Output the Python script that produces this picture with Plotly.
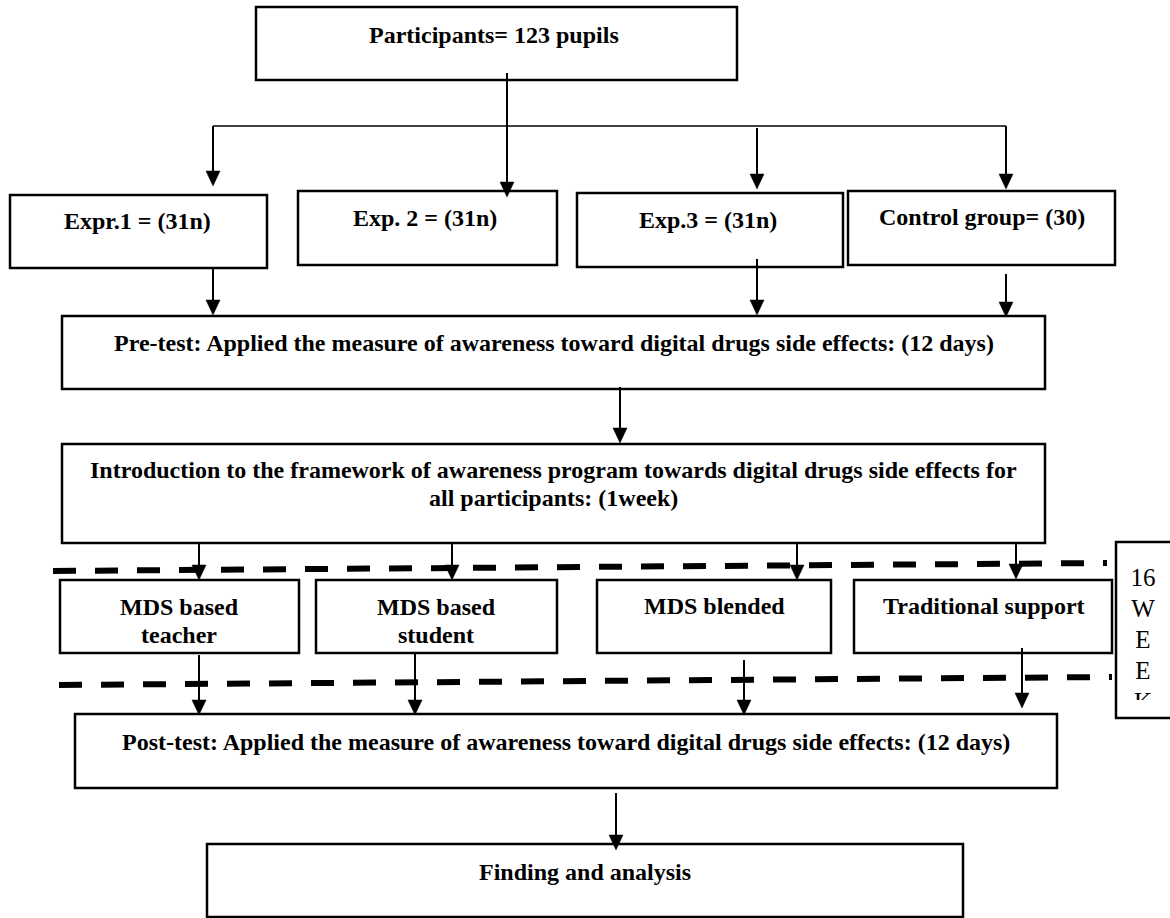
import plotly.graph_objects as go

# ---------------- content ----------------
top_label = "Participants= 123 pupils"
group_labels = ["Expr.1 = (31n)", "Exp. 2 = (31n)", "Exp.3 = (31n)", "Control group= (30)"]
pretest_label = "Pre-test: Applied the measure of awareness toward digital drugs side effects: (12 days)"
intro_label = ("Introduction to the framework of awareness program towards digital drugs side effects for"
               "<br>all participants: (1week)")
method_labels = ["MDS based<br>teacher", "MDS based<br>student", "MDS blended", "Traditional support"]
posttest_label = "Post-test: Applied the measure of awareness toward digital drugs side effects: (12 days)"
final_label = "Finding and analysis"
duration_letters = ["16", "W", "E", "E", "K"]

# ---------------- geometry (pixels, y downward) ----------------
W, H = 1170, 918
FONT = "Liberation Serif"
FS = 24
LINE_GAP = 27.5

# boxes: (x0, y0, x1, y1, text_x, first_line_y)
top_box = (256, 7, 737, 80, 494, 35)
group_boxes = [(10, 195, 267, 268, 137, 221),
               (298, 191, 557, 265, 425, 218),
               (577, 193, 843, 267, 708, 220),
               (848, 191, 1115, 265, 982, 217)]
pretest_box = (62, 316, 1045, 389, 554, 343)
intro_box = (62, 444, 1045, 543, 553, 470)
method_boxes = [(60, 580, 299, 653, 179, 607),
                (316, 580, 557, 653, 436, 607),
                (597, 580, 831, 653, 714, 606),
                (854, 580, 1112, 653, 984, 606)]
posttest_box = (75, 714, 1057, 788, 566, 742)
final_box = (207, 844, 963, 917, 585, 872)
week_box = (1116, 542, 1180, 718)

# arrows: (x, y_start, y_tip)
arrows = [(507, 73, 197), (213, 126, 186), (757, 128, 189), (1006, 126, 189),
          (213, 268, 315), (757, 259, 315), (1006, 274, 317),
          (620, 387, 443),
          (199, 543, 580), (452, 543, 580), (797, 543, 580), (1016, 543, 579),
          (199, 655, 715), (415, 653, 715), (744, 660, 715), (1022, 648, 708),
          (616, 793, 850)]
branch_line = (213, 1006, 126)
dashed_lines = [((53, 571), (1107, 563)), ((59, 685), (1112, 677))]

fig = go.Figure()
fig.add_trace(go.Scatter(x=[0], y=[0], mode="markers", marker=dict(opacity=0),
                         hoverinfo="skip", showlegend=False))

shapes = []
annotations = []


def add_box(b, text, bold=True):
    x0, y0, x1, y1, tx, ty = b
    shapes.append(dict(type="rect", xref="x", yref="y", x0=x0, y0=y0, x1=x1, y1=y1,
                       line=dict(color="black", width=2.5), fillcolor="white", layer="below"))
    for i, line in enumerate(text.split("<br>")):
        annotations.append(dict(x=tx, y=ty + i * LINE_GAP, xref="x", yref="y", text=line,
                                showarrow=False, xanchor="center", yanchor="middle", align="center",
                                font=dict(family=FONT, size=FS, color="black",
                                          weight="bold" if bold else "normal")))


add_box(top_box, top_label)
for b, t in zip(group_boxes, group_labels):
    add_box(b, t)
add_box(pretest_box, pretest_label)
add_box(intro_box, intro_label)
for b, t in zip(method_boxes, method_labels):
    add_box(b, t)
add_box(posttest_box, posttest_label)
add_box(final_box, final_label)

# week box
wx0, wy0, wx1, wy1 = week_box
shapes.append(dict(type="rect", xref="x", yref="y", x0=wx0, y0=wy0, x1=wx1, y1=wy1,
                   line=dict(color="black", width=2.5), fillcolor="white", layer="below"))

# branch line
bx0, bx1, by = branch_line
shapes.append(dict(type="line", xref="x", yref="y", x0=bx0, y0=by, x1=bx1, y1=by,
                   line=dict(color="black", width=1.5)))

# dashed lines
for (p0, p1) in dashed_lines:
    shapes.append(dict(type="line", xref="x", yref="y", x0=p0[0], y0=p0[1], x1=p1[0], y1=p1[1],
                       line=dict(color="black", width=6, dash="23px,19px")))

# arrows
HEAD_L, HEAD_W = 15, 14
for (x, ys, yt) in arrows:
    shapes.append(dict(type="line", xref="x", yref="y", x0=x, y0=ys, x1=x, y1=yt - 4,
                       line=dict(color="black", width=2)))
    shapes.append(dict(type="path", xref="x", yref="y",
                       path=f"M {x - HEAD_W/2} {yt - HEAD_L} L {x + HEAD_W/2} {yt - HEAD_L} L {x} {yt} Z",
                       fillcolor="black", line=dict(color="black", width=0.5)))

# vertical "16 WEEK" text, clipped by its own small subplot
letter_y = [580, 611, 642, 673, 704]
fig.add_trace(go.Scatter(x=[1143] * len(duration_letters), y=letter_y, text=duration_letters,
                         mode="text", textposition="middle center",
                         textfont=dict(family=FONT, size=25, color="black"),
                         cliponaxis=True, hoverinfo="skip", showlegend=False,
                         xaxis="x2", yaxis="y2"))

clip_top, clip_bottom = 544, 700
fig.update_layout(
    width=W, height=H,
    margin=dict(l=0, r=0, t=0, b=0),
    paper_bgcolor="white", plot_bgcolor="rgba(0,0,0,0)",
    xaxis=dict(range=[0, W], visible=False, fixedrange=True),
    yaxis=dict(range=[H, 0], visible=False, fixedrange=True),
    xaxis2=dict(range=[wx0 + 2, W], domain=[(wx0 + 2) / W, 1], anchor="y2", visible=False),
    yaxis2=dict(range=[clip_bottom, clip_top], domain=[(H - clip_bottom) / H, (H - clip_top) / H],
                anchor="x2", visible=False),
    shapes=shapes,
    annotations=annotations,
    showlegend=False,
)

fig.write_html("out.html", config={"displayModeBar": False},
               post_script="document.body.style.margin='0';document.body.style.overflow='hidden';")
